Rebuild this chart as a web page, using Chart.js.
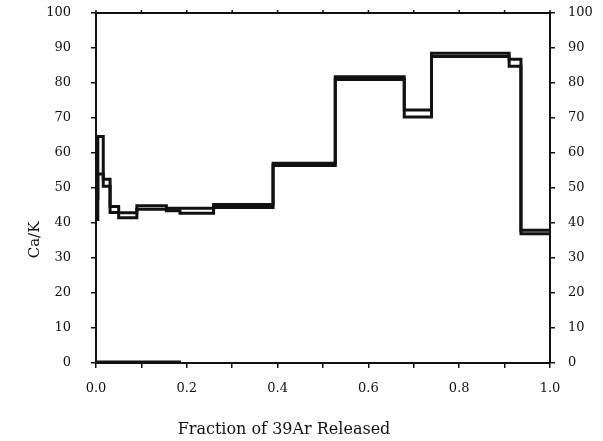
<!DOCTYPE html>
<html>
<head>
<meta charset="utf-8">
<script src="https://cdn.jsdelivr.net/npm/chart.js@4.4.1/dist/chart.umd.min.js"></script>
<style>
  html, body { margin: 0; padding: 0; background: #fff; }
  #wrap { width: 603px; height: 441px; }
</style>
</head>
<body>
<div id="wrap"><canvas id="c" width="603" height="441"></canvas></div>
<script>
// Step edges (fraction of 39Ar released) and Ca/K values per step
const fractionEdges = [0, 0.004, 0.016, 0.031, 0.05, 0.09, 0.155, 0.185, 0.259, 0.39, 0.527, 0.679, 0.739, 0.91, 0.936, 1.0];
const caKUpper = [47, 64.7, 52.5, 44.7, 42.9, 44.9, 44.2, 44.2, 45.3, 57.1, 81.8, 72.3, 88.5, 86.8, 37.9];
const caKLower = [41, 54.0, 50.5, 43.0, 41.5, 43.9, 43.5, 42.8, 44.4, 56.4, 81.0, 70.3, 87.6, 84.8, 36.9];
const baseTrace = [0.4, 0.4, 0.4, 0.4, 0.4, 0.4, 0.4, 0, 0, 0, 0, 0, 0, 0, 0];
const xTickLabels = ['0.0', '0.2', '0.4', '0.6', '0.8', '1.0'];
const yTickLabels = ['0', '10', '20', '30', '40', '50', '60', '70', '80', '90', '100'];
const xTitle = 'Fraction of 39Ar Released';
const yTitle = 'Ca/K';

function stepPoints(values) {
  const pts = values.map((v, i) => ({ x: fractionEdges[i], y: v }));
  pts.push({ x: fractionEdges[fractionEdges.length - 1], y: values[values.length - 1] });
  return pts;
}

const FONT = { family: '"DejaVu Serif", "Liberation Serif", serif', size: 13 };
const INK = '#111';

function ds(values, w) {
  return {
    data: stepPoints(values),
    stepped: 'before',
    borderColor: INK,
    borderWidth: w,
    pointRadius: 0,
    fill: false,
    tension: 0,
    xAxisID: 'x',
    yAxisID: 'y'
  };
}

const framePlugin = {
  id: 'frame',
  afterDraw(chart) {
    const ctx = chart.ctx;
    const a = chart.chartArea;
    const xs = chart.scales.x;
    ctx.save();
    // top frame line with small tick marks
    ctx.strokeStyle = INK;
    ctx.lineWidth = 2;
    ctx.beginPath();
    ctx.moveTo(a.left - 1, a.top);
    ctx.lineTo(a.right + 1, a.top);
    ctx.stroke();
    ctx.lineWidth = 1.5;
    xs.ticks.forEach(t => {
      const px = xs.getPixelForValue(t.value);
      ctx.beginPath();
      ctx.moveTo(px, a.top);
      ctx.lineTo(px, a.top - 3);
      ctx.stroke();
    });
    // axis titles
    ctx.fillStyle = INK;
    ctx.textAlign = 'center';
    ctx.textBaseline = 'middle';
    ctx.font = '16px "DejaVu Serif", "Liberation Serif", serif';
    ctx.fillText(xTitle, 284, 430);
    ctx.font = '15px "DejaVu Serif", "Liberation Serif", serif';
    ctx.translate(35, 240);
    ctx.rotate(-Math.PI / 2);
    ctx.fillText(yTitle, 0, 0);
    ctx.restore();
  }
};

const yAxisCommon = {
  type: 'linear', min: 0, max: 100,
  ticks: {
    stepSize: 10, color: INK, font: FONT,
    callback: (v, i) => yTickLabels[i]
  },
  grid: { drawOnChartArea: false, drawTicks: true, tickLength: 5, color: INK, lineWidth: 1.5 },
  border: { display: true, color: INK, width: 2 }
};

function fixVertical(w) {
  return s => { s.width = w; s.paddingTop = 0; s.paddingBottom = 0; };
}

new Chart(document.getElementById('c'), {
  type: 'line',
  data: {
    datasets: [ds(caKUpper, 3), ds(caKLower, 3), ds(baseTrace, 2)]
  },
  options: {
    responsive: false,
    animation: false,
    devicePixelRatio: 1,
    layout: { padding: { top: 13, left: 0, right: 0, bottom: 0 } },
    plugins: { legend: { display: false }, tooltip: { enabled: false } },
    scales: {
      x: {
        type: 'linear', position: 'bottom', min: 0, max: 1,
        ticks: {
          stepSize: 0.1, autoSkip: false, maxRotation: 0, color: INK, font: FONT, padding: 13,
          callback: (v, i) => (i % 2 === 0 ? xTickLabels[i / 2] : '')
        },
        grid: { drawOnChartArea: false, drawTicks: true, tickLength: 5, color: INK, lineWidth: 1.5 },
        border: { display: true, color: INK, width: 2 },
        afterFit: s => { s.height = 78; s.paddingLeft = 0; s.paddingRight = 0; }
      },
      y: Object.assign({}, yAxisCommon, {
        position: 'left',
        ticks: Object.assign({}, yAxisCommon.ticks, { padding: 20 }),
        afterFit: fixVertical(96)
      }),
      y2: Object.assign({}, yAxisCommon, {
        position: 'right',
        ticks: Object.assign({}, yAxisCommon.ticks, { padding: 13 }),
        afterFit: fixVertical(53)
      })
    }
  },
  plugins: [framePlugin]
});
</script>
</body>
</html>
